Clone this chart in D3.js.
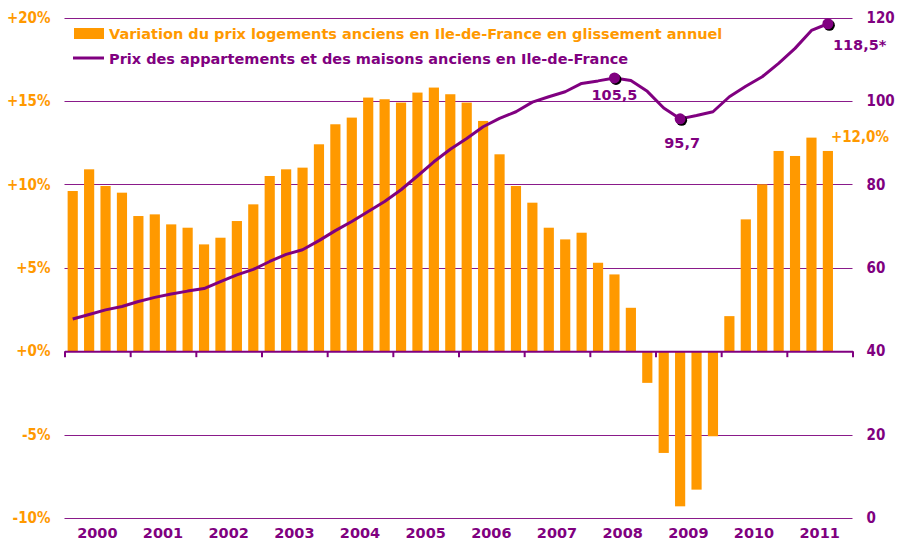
<!DOCTYPE html>
<meta charset="utf-8">
<style>
  body { margin: 0; background: #fff; }
  svg { display: block; }
  text { font-family: "DejaVu Sans", sans-serif; font-weight: bold; font-size: 14.5px; }
  .grid line { stroke: #8a1a8a; stroke-width: 1; }
  .yl text { fill: #ff9900; font-size: 15px; font-family: "DejaVu Sans Condensed", "DejaVu Sans", sans-serif; }
  .yr text { fill: #800080; font-size: 15px; font-family: "DejaVu Sans Condensed", "DejaVu Sans", sans-serif; }
  .years text { fill: #800080; }
</style>
<body>
</body>
<script src="https://cdn.jsdelivr.net/npm/d3@7"></script>
<script>
  const years = ['2000', '2001', '2002', '2003', '2004', '2005',
                 '2006', '2007', '2008', '2009', '2010', '2011'];
  const quarters = years.flatMap(y => ['T1', 'T2', 'T3', 'T4'].map(q => `${y}${q}`));

  // glissement annuel (%), 2000T1 .. 2011T3
  const variation = [
    9.6, 10.9, 9.9, 9.5,
    8.1, 8.2, 7.6, 7.4,
    6.4, 6.8, 7.8, 8.8,
    10.5, 10.9, 11.0, 12.4,
    13.6, 14.0, 15.2, 15.1,
    14.9, 15.5, 15.8, 15.4,
    14.9, 13.8, 11.8, 9.9,
    8.9, 7.4, 6.7, 7.1,
    5.3, 4.6, 2.6, -1.9,
    -6.1, -9.3, -8.3, -5.1,
    2.1, 7.9, 10.0, 12.0,
    11.7, 12.8, 12.0
  ];

  // indice des prix, 2000T1 .. 2011T3
  const indice = [
    47.7, 48.8, 49.9, 50.7,
    51.9, 52.9, 53.7, 54.4,
    55.0, 56.7, 58.3, 59.6,
    61.5, 63.2, 64.3, 66.5,
    68.9, 71.1, 73.5, 75.9,
    78.7, 82.0, 85.4, 88.4,
    91.0, 93.8, 95.8, 97.4,
    99.7, 101.0, 102.2, 104.2,
    104.8, 105.5, 104.9, 102.3,
    98.3, 95.7, 96.5, 97.4,
    101.0, 103.5, 105.8, 109.0,
    112.6, 116.9, 118.5
  ];

  const leftTicks = [-10, -5, 0, 5, 10, 15, 20];
  const rightTicks = [0, 20, 40, 60, 80, 100, 120];

  // points annotés : [indice dans la série, libellé, dx, dy, ancrage]
  const labels = [
    [33, '105,5', 0, 22, 'middle'],
    [37, '95,7', 2, 29, 'middle'],
    [46, '118,5*', 5, 26, 'start']
  ];
  const lastVarLabel = '+12,0%';

  const legend = [
    'Variation du prix logements anciens en Ile-de-France en glissement annuel',
    'Prix des appartements et des maisons anciens  en Ile-de-France'
  ];

  const orange = '#ff9900', purple = '#800080';
  const w = 897, h = 543;
  const l = 64.5, r = 852.5;

  const svg = d3.select('body').append('svg')
    .attr('width', w)
    .attr('height', h);

  const x = d3.scaleBand().domain(quarters).range([l, r])
    .paddingInner(0.38).paddingOuter(0.19);
  const xYear = d3.scaleBand().domain(years).range([l, r]);
  const xTick = d3.scaleLinear().domain([0, years.length]).range([l, r]);
  const yL = d3.scaleLinear().domain([-10, 20]).range([518, 17.5]);
  const yR = d3.scaleLinear().domain([0, 120]).range([518, 17.5]);
  const cx = i => x(quarters[i]) + x.bandwidth() / 2;

  // grid
  svg.append('g').attr('class', 'grid')
    .selectAll('line')
    .data(leftTicks.filter(d => d !== 0))
    .join('line')
    .attr('x1', l).attr('x2', r)
    .attr('y1', d => Math.round(yL(d)) + 0.5)
    .attr('y2', d => Math.round(yL(d)) + 0.5);

  // bars
  svg.append('g')
    .selectAll('rect')
    .data(variation)
    .join('rect')
    .attr('x', (d, i) => x(quarters[i]))
    .attr('width', x.bandwidth())
    .attr('y', d => yL(Math.max(0, d)))
    .attr('height', d => Math.abs(yL(d) - yL(0)))
    .attr('fill', orange);

  // zero axis with year ticks
  svg.append('g')
    .attr('transform', `translate(0, ${yL(0)})`)
    .call(d3.axisBottom(xTick).tickValues(d3.range(years.length + 1))
      .tickSize(6).tickSizeOuter(0).tickFormat(''))
    .call(g => g.selectAll('path, line').attr('stroke', purple).attr('stroke-width', 2));

  // year labels
  svg.append('g').attr('class', 'years')
    .attr('transform', `translate(0, 524)`)
    .call(d3.axisBottom(xYear).tickSize(0).tickPadding(4))
    .call(g => g.select('.domain').remove())
    .call(g => g.selectAll('text').attr('font-size', null).attr('font-family', null));

  // left axis
  svg.append('g').attr('class', 'yl')
    .attr('transform', `translate(${l}, 0)`)
    .call(d3.axisLeft(yL).tickValues(leftTicks).tickSize(0).tickPadding(14)
      .tickFormat(d => (d >= 0 ? '+' : '') + d + '%'))
    .call(g => g.select('.domain').remove())
    .call(g => g.selectAll('text').attr('font-size', null).attr('font-family', null));

  // right axis
  svg.append('g').attr('class', 'yr')
    .attr('transform', `translate(${r}, 0)`)
    .call(d3.axisRight(yR).tickValues(rightTicks).tickSize(0).tickPadding(14))
    .call(g => g.select('.domain').remove())
    .call(g => g.selectAll('text').attr('font-size', null).attr('font-family', null));

  // price line
  const line = d3.line()
    .x((d, i) => cx(i))
    .y(d => yR(d));

  svg.append('path')
    .datum(indice)
    .attr('d', line)
    .attr('fill', 'none')
    .attr('stroke', purple)
    .attr('stroke-width', 3)
    .attr('stroke-linejoin', 'round');

  // markers + labels
  const marks = svg.append('g');
  labels.forEach(([i, t, dx, dy, anchor]) => {
    const px = cx(i), py = yR(indice[i]);
    marks.append('circle').attr('cx', px + 1.5).attr('cy', py + 1.5).attr('r', 5.5).attr('fill', '#000');
    marks.append('circle').attr('cx', px).attr('cy', py).attr('r', 5.5).attr('fill', purple);
    marks.append('text')
      .attr('x', px + dx).attr('y', py + dy)
      .attr('text-anchor', anchor)
      .attr('fill', purple)
      .text(t);
  });

  const last = variation.length - 1;
  svg.append('text')
    .attr('x', cx(last) + 3)
    .attr('y', yL(variation[last]) - 9)
    .attr('fill', orange)
    .style('font-family', '"DejaVu Sans Condensed", "DejaVu Sans", sans-serif')
    .style('font-size', '15px')
    .style('font-weight', 'bold')
    .text(lastVarLabel);

  // legend
  const lg = svg.append('g');
  lg.append('rect').attr('x', 74).attr('y', 28).attr('width', 30).attr('height', 11).attr('fill', orange);
  lg.append('text').attr('x', 109).attr('y', 39).attr('fill', orange).text(legend[0]);
  lg.append('line').attr('x1', 73).attr('x2', 104).attr('y1', 58).attr('y2', 58)
    .attr('stroke', purple).attr('stroke-width', 3);
  lg.append('text').attr('x', 109).attr('y', 64).attr('fill', purple).text(legend[1]);
</script>
